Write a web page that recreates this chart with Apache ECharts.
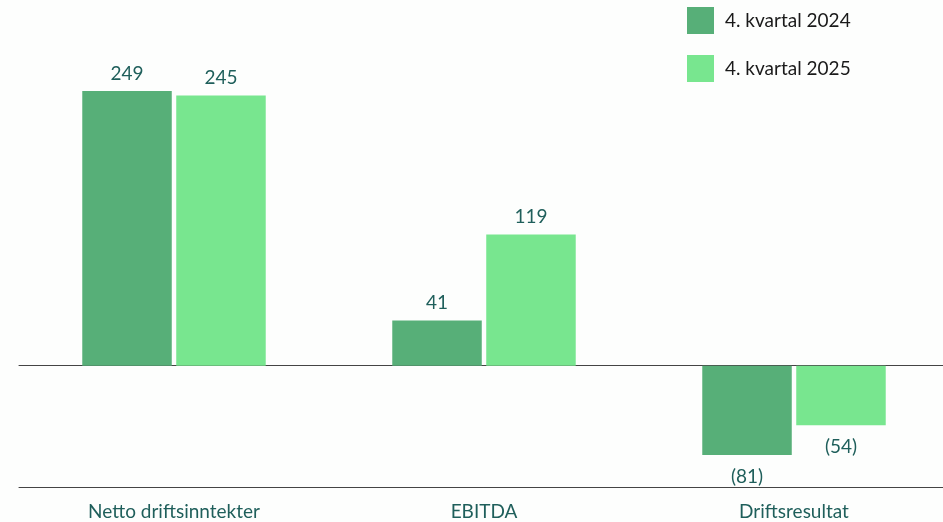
<!DOCTYPE html>
<html>
<head>
<meta charset="utf-8">
<script src="https://cdn.jsdelivr.net/npm/echarts@6/dist/echarts.min.js"></script>
<style>html,body{margin:0;padding:0;background:#fdfefd;overflow:hidden;width:943px;height:522px;}#c{width:952px;height:522px;}</style>
</head>
<body>
<div id="c"></div>
<script>
const categories = ['Netto driftsinntekter', 'EBITDA', 'Driftsresultat'];
const seriesNames = ['4. kvartal 2024', '4. kvartal 2025'];
const values2024 = [249, 41, -81];
const values2025 = [245, 119, -54];

const chart = echarts.init(document.getElementById('c'));
const labelColor = '#1f5f5b';
function mkData(arr) {
  return arr.map(v => ({
    value: v,
    label: v < 0 ? { position: 'bottom', distance: 12 } : { position: 'top', distance: 8 }
  }));
}
const fmt = p => p.value < 0 ? '(' + Math.abs(p.value) + ')' : String(p.value);
chart.setOption({
  backgroundColor: '#fdfefd',
  animation: false,
  textStyle: { fontFamily: 'Lato' },
  legend: {
    orient: 'vertical',
    left: 687,
    top: 7,
    padding: 0,
    itemWidth: 27,
    itemHeight: 27,
    itemGap: 21,
    icon: 'rect',
    textStyle: { fontSize: 19, color: '#1a1a1a', fontFamily: 'Lato', padding: [0, 0, 0, 6] },
    data: seriesNames
  },
  grid: { left: 19, top: 0, width: 930, height: 487, containLabel: false },
  xAxis: [{
    type: 'category',
    data: categories,
    axisLine: { onZero: false, lineStyle: { color: '#444', width: 1 } },
    axisTick: { show: false },
    axisLabel: { fontSize: 19, color: labelColor, margin: 15, fontFamily: 'Lato' }
  }, {
    type: 'category',
    data: categories,
    position: 'top',
    axisLine: { onZero: true, lineStyle: { color: '#444', width: 1 } },
    axisTick: { show: false },
    axisLabel: { show: false }
  }],
  yAxis: {
    type: 'value',
    min: -110,
    max: 331.5,
    show: false,
    splitLine: { show: false }
  },
  series: [{
    name: seriesNames[0],
    type: 'bar',
    data: mkData(values2024),
    barWidth: 89.5,
    barGap: '5%',
    itemStyle: { color: '#57af78' },
    label: { show: true, formatter: fmt, fontSize: 19, color: labelColor, fontFamily: 'Lato' }
  }, {
    name: seriesNames[1],
    type: 'bar',
    data: mkData(values2025),
    barWidth: 89.5,
    barGap: '5%',
    itemStyle: { color: '#78e68f' },
    label: { show: true, formatter: fmt, fontSize: 19, color: labelColor, fontFamily: 'Lato' }
  }]
});
</script>
</body>
</html>
